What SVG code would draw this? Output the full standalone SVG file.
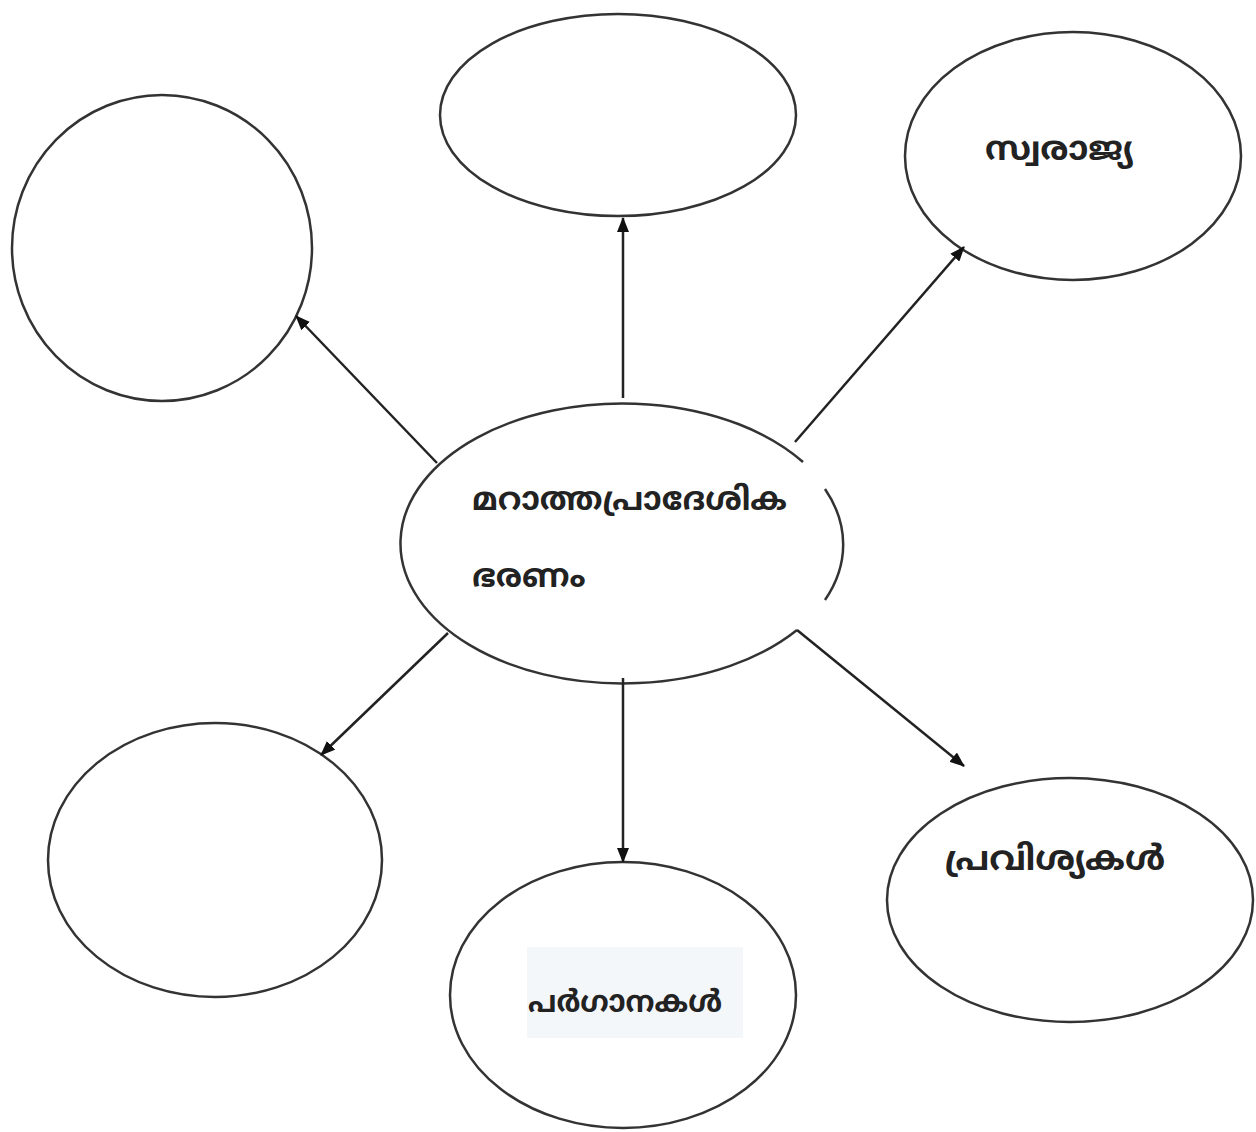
<svg xmlns="http://www.w3.org/2000/svg" width="1256" height="1132" viewBox="0 0 1256 1132">
<style>
.n{fill:#fff;stroke:#333;stroke-width:2.5}
.c{stroke:#222;stroke-width:2.5;fill:none;marker-end:url(#ah)}
.t{font-family:"Noto Sans Malayalam","Noto Sans","DejaVu Sans",sans-serif;font-size:31px;font-weight:bold;fill:#222}
</style>
<defs>
<marker id="ah" viewBox="0 0 15 12" refX="14" refY="6" markerWidth="15" markerHeight="12" markerUnits="userSpaceOnUse" orient="auto">
<path d="M0,0 L15,6 L0,12 z" fill="#111"/>
</marker>
</defs>
<rect width="1256" height="1132" fill="#fff"/>
<g id="node-topleft"><ellipse class="n" cx="162" cy="248" rx="150" ry="153"/></g>
<g id="node-top"><ellipse class="n" cx="618" cy="115" rx="178" ry="101"/></g>
<g id="node-swarajya"><ellipse class="n" cx="1073" cy="156" rx="168" ry="124"/><text class="t" x="985" y="160" style="font-size:33px" textLength="148" lengthAdjust="spacingAndGlyphs">സ്വരാജ്യ</text></g>
<g id="node-bottomleft"><ellipse class="n" cx="215" cy="860" rx="167" ry="137"/></g>
<g id="node-parganas"><ellipse class="n" cx="623" cy="995" rx="173" ry="133"/><rect x="527" y="947" width="216" height="91" fill="#f4f7fa"/><text class="t" x="528" y="1012" style="font-size:30px" textLength="194" lengthAdjust="spacingAndGlyphs">പർഗാനകൾ</text></g>
<g id="node-provinces"><ellipse class="n" cx="1070" cy="900" rx="183" ry="122"/><text class="t" x="945" y="870" style="font-size:34px" textLength="220" lengthAdjust="spacingAndGlyphs">പ്രവിശ്യകൾ</text></g>
<g id="node-center">
<path class="n" d="M803,462 A222,140 0 1 0 797,630"/>
<path class="n" style="fill:none" d="M825,489 A222,140 0 0 1 825,600"/>
<text class="t" x="472" y="510" style="font-size:32px" textLength="315" lengthAdjust="spacingAndGlyphs">മറാത്തപ്രാദേശിക</text>
<text class="t" x="472" y="587" style="font-size:32px">ഭരണം</text>
</g>
<g id="connectors">
<line class="c" x1="437" y1="463" x2="296" y2="316"/>
<line class="c" x1="623" y1="398" x2="623" y2="218"/>
<line class="c" x1="795" y1="442" x2="964" y2="247"/>
<line class="c" x1="448" y1="633" x2="321" y2="755"/>
<line class="c" x1="623" y1="678" x2="623" y2="862"/>
<line class="c" x1="797" y1="630" x2="964" y2="766"/>
</g>
</svg>
